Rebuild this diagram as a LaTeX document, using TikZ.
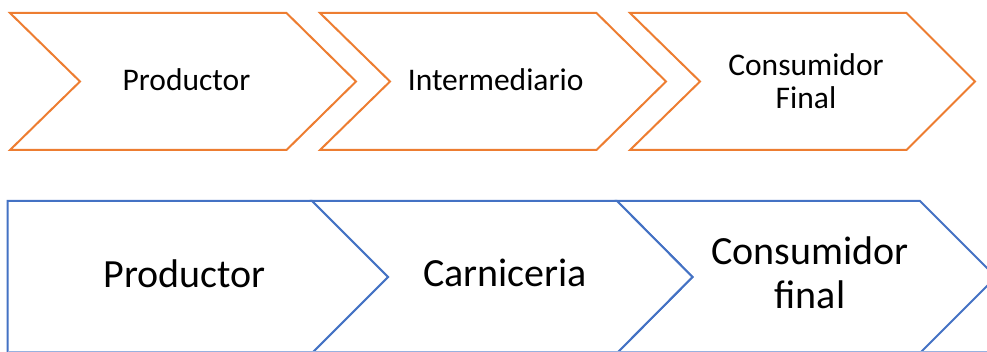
\documentclass[tikz,border=0pt]{standalone}
\usepackage{fontspec}
\setmainfont{Carlito}
\definecolor{offorange}{HTML}{ED7D31}
\definecolor{offblue}{HTML}{4472C4}
\tikzset{
  topchev/.style={draw=offorange, line width=2pt, line join=miter, fill=white},
  botchev/.style={draw=offblue, line width=2pt, line join=miter, fill=white},
  toplabel/.style={inner sep=0pt, anchor=base, font=\fontsize{31.5}{32}\selectfont},
  botlabel/.style={inner sep=0pt, anchor=base, font=\fontsize{40}{43}\selectfont}
}
\begin{document}
\begin{tikzpicture}[x=1pt,y=-1pt]
\useasboundingbox (0,0) rectangle (987,352);
% top row
\draw[topchev] (10,13) -- (286.5,13) -- (356,81.5) -- (286.5,150) -- (10,150) -- (80,81.5) -- cycle;
\draw[topchev] (320,13) -- (596.5,13) -- (666,81.5) -- (596.5,150) -- (320,150) -- (390,81.5) -- cycle;
\draw[topchev] (630,13) -- (906.5,13) -- (975,81.5) -- (906.5,150) -- (630,150) -- (700,81.5) -- cycle;
\node[toplabel] (t1) at (186.5,90.7) {Productor};
\node[toplabel] (t2) at (495.6,90.2) {Intermediario};
\node[toplabel] (t3a) at (806,76) {Consumidor};
\node[toplabel] (t3b) at (806,108.3) {Final};
% bottom row
\begin{scope}
\clip (0,0) rectangle (987,352);
\draw[botchev] (920,201) -- (996,277) -- (920,353) -- (617,353) -- (692.5,277) -- (617,201) -- cycle;
\draw[botchev] (312,201) -- (617,201) -- (692.5,277) -- (617,353) -- (312,353) -- (388,277) -- cycle;
\draw[botchev] (7.5,201) -- (312,201) -- (388,277) -- (312,353) -- (7.5,353) -- cycle;
\draw[offblue!55, line width=1.2pt] (7.5,351.6) -- (987,351.6);
\end{scope}
\node[botlabel] (b1) at (184.5,287.5) {Productor};
\node[botlabel] (b2) at (505,286.7) {Carniceria};
\node[botlabel] (b3a) at (810,265) {Consumidor};
\node[botlabel] (b3b) at (810,308.3) {final};
\end{tikzpicture}
\end{document}
